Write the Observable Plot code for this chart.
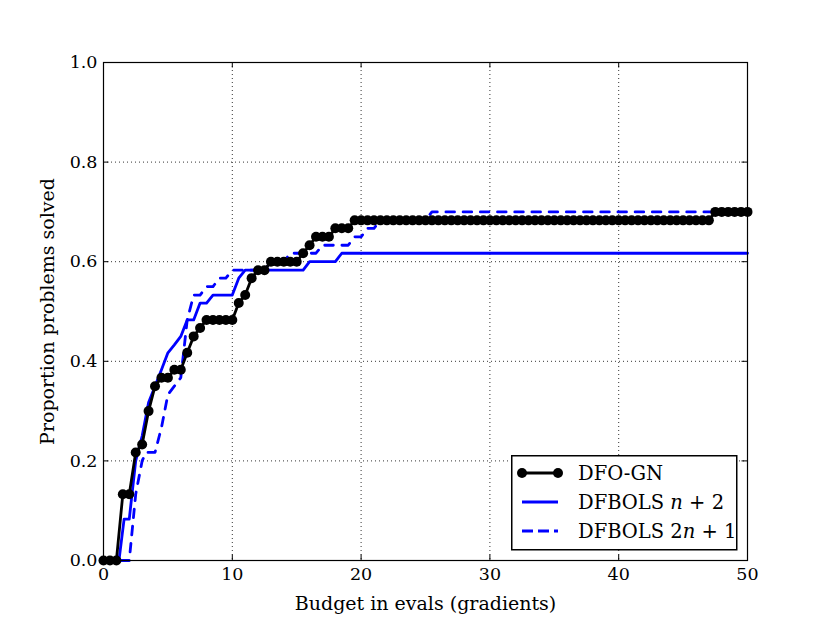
<!DOCTYPE html>
<html><head><meta charset="utf-8">
<script src="https://cdn.jsdelivr.net/npm/d3@7"></script>
<script src="https://cdn.jsdelivr.net/npm/@observablehq/plot@0.6"></script>
<style>
body{margin:0;background:#fff}
#wrap{position:relative;width:830px;height:623px;background:#fff}
#legend{position:absolute;left:511px;top:455px}
</style>
</head><body><div id="wrap"></div>
<script>
// DFO-GN: sampled every half budget unit
const budgets = [0,0.5,1,1.5,2,2.5,3,3.5,4,4.5,5,5.5,6,6.5,7,7.5,8,8.5,9,9.5,10,10.5,11,11.5,12,12.5,13,13.5,14,14.5,15,15.5,16,16.5,17,17.5,18,18.5,19,19.5,20,20.5,21,21.5,22,22.5,23,23.5,24,24.5,25,25.5,26,26.5,27,27.5,28,28.5,29,29.5,30,30.5,31,31.5,32,32.5,33,33.5,34,34.5,35,35.5,36,36.5,37,37.5,38,38.5,39,39.5,40,40.5,41,41.5,42,42.5,43,43.5,44,44.5,45,45.5,46,46.5,47,47.5,48,48.5,49,49.5,50];
const dfognSolved = [0,0,0,0.133,0.133,0.217,0.233,0.3,0.35,0.367,0.367,0.383,0.383,0.417,0.45,0.467,0.483,0.483,0.483,0.483,0.483,0.517,0.533,0.567,0.583,0.583,0.6,0.6,0.6,0.6,0.6,0.617,0.633,0.65,0.65,0.65,0.667,0.667,0.667,
0.683,0.683,0.683,0.683,0.683,0.683,0.683,0.683,0.683,0.683,0.683,0.683,0.683,0.683,0.683,0.683,0.683,0.683,0.683,0.683,0.683,0.683,0.683,0.683,0.683,0.683,0.683,0.683,0.683,0.683,0.683,0.683,0.683,0.683,0.683,0.683,0.683,0.683,0.683,0.683,0.683,0.683,0.683,0.683,0.683,0.683,0.683,0.683,0.683,0.683,0.683,0.683,0.683,0.683,0.683,0.683,
0.7,0.7,0.7,0.7,0.7,0.7];

const dfbolsN2Budgets = [0,1.2,1.6,2,2.5,3,3.5,4,4.5,5,5.5,6,6.5,7,7.5,8,8.5,10,10.5,11,15.5,16,18,18.5,50];
const dfbolsN2Solved  = [0,0,0.083,0.083,0.2,0.25,0.317,0.35,0.383,0.417,0.433,0.45,0.483,0.483,0.517,0.517,0.533,0.533,0.567,0.583,0.583,0.6,0.6,0.617,0.617];

const dfbols2N1Budgets = [0,2,2.5,3,3.3,4,4.5,5,5.5,6,6.5,7,7.5,8,8.5,9,9.5,10,12.5,13,14,14.5,16.5,17,19,19.5,20,20.5,21,21.5,25,25.5,50];
const dfbols2N1Solved  = [0,0,0.133,0.2,0.217,0.217,0.267,0.333,0.35,0.367,0.483,0.533,0.533,0.55,0.55,0.567,0.567,0.583,0.583,0.6,0.6,0.617,0.617,0.633,0.633,0.65,0.65,0.667,0.667,0.683,0.683,0.7,0.7];

const xTicks = [0,10,20,30,40,50];
const yTicks = [0,0.2,0.4,0.6,0.8,1.0];
const seriesNames = ["DFO-GN","DFBOLS","DFBOLS"];
const seriesMath = [null,["n"," + 2"],["2","n"," + 1"]];
const seriesColors = ["black","blue","blue"];

const gn = budgets.map((b,i)=>({budget:b, solved:dfognSolved[i]}));
const n2 = dfbolsN2Budgets.map((b,i)=>({budget:b, solved:dfbolsN2Solved[i]}));
const n21 = dfbols2N1Budgets.map((b,i)=>({budget:b, solved:dfbols2N1Solved[i]}));

const W=830,H=623,mL=103,mR=83,mT=62,mB=63;
const plotW=W-mL-mR, plotH=H-mT-mB, tk=5.5;
const font="'DejaVu Serif', 'Liberation Serif', serif";
const dash="8.6,8.6";
const lw=2.8, rDot=5;

const chart = Plot.plot({
  width:W, height:H, marginLeft:mL, marginRight:mR, marginTop:mT, marginBottom:mB,
  style:{fontFamily:font, fontSize:"17.5px", color:"black", background:"white"},
  x:{domain:[0,50]},
  y:{domain:[0,1]},
  marks:[
    Plot.gridX(xTicks.slice(1,-1), {stroke:"black", strokeOpacity:0.8, strokeDasharray:"1,3", strokeWidth:1}),
    Plot.gridY(yTicks.slice(1,-1), {stroke:"black", strokeOpacity:0.8, strokeDasharray:"1,3", strokeWidth:1}),
    Plot.line(n2, {x:"budget", y:"solved", stroke:seriesColors[1], strokeWidth:lw}),
    Plot.line(n21, {x:"budget", y:"solved", stroke:seriesColors[2], strokeWidth:lw, strokeDasharray:dash}),
    Plot.line(gn, {x:"budget", y:"solved", stroke:seriesColors[0], strokeWidth:lw}),
    Plot.dot(gn, {x:"budget", y:"solved", r:rDot, fill:seriesColors[0], stroke:null}),
    Plot.ruleX(xTicks, {insetTop:plotH-tk, stroke:"black"}),
    Plot.ruleX(xTicks, {insetBottom:plotH-tk, stroke:"black"}),
    Plot.ruleY(yTicks, {insetRight:plotW-tk, stroke:"black"}),
    Plot.ruleY(yTicks, {insetLeft:plotW-tk, stroke:"black"}),
    Plot.frame({stroke:"black", strokeWidth:1.2}),
    Plot.axisX(xTicks, {tickSize:0, tickPadding:7, label:null, tickFormat:d=>String(d)}),
    Plot.axisY(yTicks, {tickSize:0, tickPadding:6, label:null, tickFormat:d3.format(".1f")}),
    Plot.text(["Budget in evals (gradients)"], {frameAnchor:"bottom", dy:43, lineAnchor:"middle", textAnchor:"middle", fill:"black", fontSize:19}),
    Plot.text(["Proportion problems solved"], {frameAnchor:"left", dx:-56, rotate:-90, lineAnchor:"middle", textAnchor:"middle", fill:"black", fontSize:19})
  ]
});
const wrap=document.getElementById("wrap");
wrap.appendChild(chart);

// Legend
const lg=d3.select(wrap).append("svg").attr("id","legend").attr("width",227).attr("height",96)
  .style("font-family",font).style("font-size","19.5px");
lg.append("rect").attr("x",0.75).attr("y",0.75).attr("width",225).attr("height",94).attr("fill","white").attr("stroke","black").attr("stroke-width",1.5);
const rowY=[18,47,76];
seriesNames.forEach((name,i)=>{
  const g=lg.append("g").attr("transform",`translate(0,${rowY[i]})`);
  g.append("line").attr("x1",11).attr("x2",47).attr("y1",0).attr("y2",0)
    .attr("stroke",seriesColors[i]).attr("stroke-width",lw)
    .attr("stroke-dasharray", i===2?"11,5":null);
  if(i===0){
    g.append("circle").attr("cx",11).attr("cy",0).attr("r",rDot).attr("fill","black");
    g.append("circle").attr("cx",47).attr("cy",0).attr("r",rDot).attr("fill","black");
  }
  const t=g.append("text").attr("x",67).attr("y",0).attr("dy","0.35em").attr("fill","black").text(name);
  if(seriesMath[i]){
    t.append("tspan").text(" ");
    seriesMath[i].forEach(s=>{
      const sp=t.append("tspan").text(s);
      if(s==="n") sp.attr("font-style","italic");
    });
  }
});
</script>
</body></html>
